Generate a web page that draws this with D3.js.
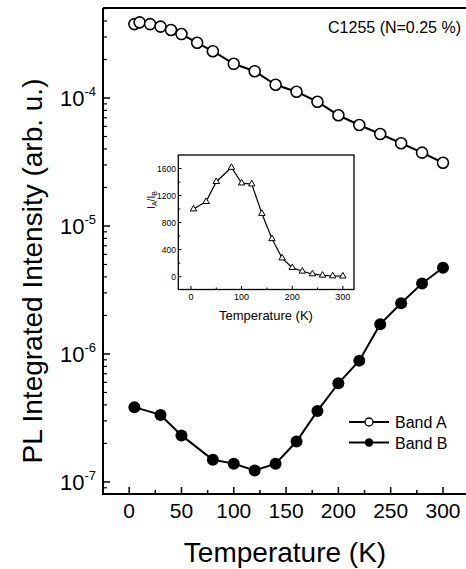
<!DOCTYPE html>
<html><head><meta charset="utf-8">
<script src="https://cdn.jsdelivr.net/npm/d3@7"></script>
<style>body{margin:0;background:#fff}svg{display:block}text{font-family:"Liberation Sans",Arial,sans-serif;fill:#000}</style>
</head><body><div id="chart"></div>
<script>
const tempsA = [5,10,20,30,40,50,65,80,100,120,140,160,180,200,220,240,260,280,300];
const bandA = [3.78e-4,3.90e-4,3.78e-4,3.61e-4,3.40e-4,3.16e-4,2.70e-4,2.32e-4,1.85e-4,1.62e-4,1.27e-4,1.12e-4,9.35e-5,7.33e-5,6.15e-5,5.23e-5,4.43e-5,3.74e-5,3.12e-5];
const tempsB = [5,30,50,80,100,120,140,160,180,200,220,240,260,280,300];
const bandB = [3.84e-7,3.34e-7,2.31e-7,1.49e-7,1.39e-7,1.23e-7,1.39e-7,2.07e-7,3.59e-7,5.90e-7,8.87e-7,1.71e-6,2.49e-6,3.56e-6,4.72e-6];
const tempsR = [5,30,50,80,100,120,140,160,180,200,220,240,260,280,300];
const ratio = [1000,1110,1405,1615,1385,1370,934,560,275,133,80,40,20,10,8];
const xTicks = [0,50,100,150,200,250,300];
const yTickExps = [-4,-5,-6,-7];
const insetXTicks = [0,100,200,300];
const insetYTicks = [0,400,800,1200,1600];

const W=466,H=569;
const svg=d3.select("#chart").append("svg").attr("width",W).attr("height",H);

const x=d3.scaleLinear([-25,322],[103,466]);
const y=d3.scaleLog([8.05e-8,5.05e-4],[494,8]);

// frame
svg.append("line").attr("x1",103).attr("x2",466).attr("y1",8).attr("y2",8).attr("stroke","#000").attr("stroke-width",2);

// x axis
const xAxis=svg.append("g").attr("transform","translate(0,494)");
xAxis.append("line").attr("x1",102).attr("x2",466).attr("stroke","#000").attr("stroke-width",2);
const xMinor=d3.range(-25,325,25).filter(v=>v%50!==0);
xAxis.selectAll(".xmin").data(xMinor).join("line").attr("x1",d=>x(d)).attr("x2",d=>x(d)).attr("y1",0).attr("y2",-4).attr("stroke","#000").attr("stroke-width",1.5);
xAxis.selectAll(".xmaj").data(xTicks).join("line").attr("x1",d=>x(d)).attr("x2",d=>x(d)).attr("y1",0).attr("y2",-7).attr("stroke","#000").attr("stroke-width",1.5);
xAxis.selectAll(".xl").data(xTicks).join("text").attr("x",d=>x(d)).attr("y",24).attr("text-anchor","middle").attr("font-size",21).text(d=>d);

// y axis
const yAxis=svg.append("g");
yAxis.append("line").attr("x1",103).attr("x2",103).attr("y1",8).attr("y2",495).attr("stroke","#000").attr("stroke-width",2);
const minor=[];
for(let e=-8;e<=-4;e++){for(let m=2;m<=9;m++){const v=m*Math.pow(10,e);if(v>=y.domain()[0]&&v<=y.domain()[1])minor.push(v);}}
yAxis.selectAll(".ymin").data(minor).join("line").attr("x1",103).attr("x2",107).attr("y1",d=>y(d)).attr("y2",d=>y(d)).attr("stroke","#000").attr("stroke-width",1.2);
yAxis.selectAll(".ymaj").data(yTickExps).join("line").attr("x1",103).attr("x2",110).attr("y1",d=>y(Math.pow(10,d))).attr("y2",d=>y(Math.pow(10,d))).attr("stroke","#000").attr("stroke-width",1.5);
const yl=yAxis.selectAll(".yl").data(yTickExps).join("text").attr("x",96).attr("y",d=>y(Math.pow(10,d))+8).attr("text-anchor","end");
yl.append("tspan").attr("font-size",22).text("10");
yl.append("tspan").attr("font-size",13).attr("dy",-10).text(d=>"-"+Math.abs(d));

// labels
svg.append("text").attr("transform","translate(42,271) rotate(-90)").attr("text-anchor","middle").attr("font-size",28).text("PL Integrated Intensity (arb. u.)");
svg.append("text").attr("x",285).attr("y",562).attr("text-anchor","middle").attr("font-size",28).text("Temperature (K)");
svg.append("text").attr("x",461).attr("y",33).attr("text-anchor","end").attr("font-size",16).text("C1255 (N=0.25 %)");

// series
const line=d3.line();
const ptsA=tempsA.map((t,i)=>[x(t),y(bandA[i])]);
const ptsB=tempsB.map((t,i)=>[x(t),y(bandB[i])]);
svg.append("path").attr("d",line(ptsA)).attr("fill","none").attr("stroke","#000").attr("stroke-width",2);
svg.append("path").attr("d",line(ptsB)).attr("fill","none").attr("stroke","#000").attr("stroke-width",2);
svg.selectAll(".ca").data(ptsA).join("circle").attr("cx",d=>d[0]).attr("cy",d=>d[1]).attr("r",5.5).attr("fill","#fff").attr("stroke","#000").attr("stroke-width",1.6);
svg.selectAll(".cb").data(ptsB).join("circle").attr("cx",d=>d[0]).attr("cy",d=>d[1]).attr("r",6).attr("fill","#000");

// legend
const lg=svg.append("g");
lg.append("line").attr("x1",349).attr("x2",389).attr("y1",422).attr("y2",422).attr("stroke","#000").attr("stroke-width",2);
lg.append("circle").attr("cx",369).attr("cy",422).attr("r",4).attr("fill","#fff").attr("stroke","#000").attr("stroke-width",1.3);
lg.append("text").attr("x",395).attr("y",428).attr("font-size",16).text("Band A");
lg.append("line").attr("x1",349).attr("x2",389).attr("y1",442.5).attr("y2",442.5).attr("stroke","#000").attr("stroke-width",2);
lg.append("circle").attr("cx",369).attr("cy",442.5).attr("r",4.2).attr("fill","#000");
lg.append("text").attr("x",395).attr("y",448.5).attr("font-size",16).text("Band B");

// inset
const xi=d3.scaleLinear([-25,322],[178.3,354]);
const yi=d3.scaleLinear([-190,1800],[289.5,155]);
const ins=svg.append("g");
ins.append("rect").attr("x",178.3).attr("y",155).attr("width",354-178.3).attr("height",289.5-155).attr("fill","#fff").attr("stroke","#000").attr("stroke-width",1.3);
ins.selectAll(".ixt").data(insetXTicks).join("line").attr("x1",d=>xi(d)).attr("x2",d=>xi(d)).attr("y1",289.5).attr("y2",286).attr("stroke","#000");
ins.selectAll(".ixm").data([50,150,250]).join("line").attr("x1",d=>xi(d)).attr("x2",d=>xi(d)).attr("y1",289.5).attr("y2",287.5).attr("stroke","#000");
ins.selectAll(".ixl").data(insetXTicks).join("text").attr("x",d=>xi(d)).attr("y",300).attr("text-anchor","middle").attr("font-size",9).text(d=>d);
ins.selectAll(".iyt").data(insetYTicks).join("line").attr("x1",178.3).attr("x2",181.5).attr("y1",d=>yi(d)).attr("y2",d=>yi(d)).attr("stroke","#000");
ins.selectAll(".iym").data([200,600,1000,1400]).join("line").attr("x1",178.3).attr("x2",180.3).attr("y1",d=>yi(d)).attr("y2",d=>yi(d)).attr("stroke","#000");
ins.selectAll(".iyl").data(insetYTicks).join("text").attr("x",176).attr("y",d=>yi(d)+3).attr("text-anchor","end").attr("font-size",8.5).text(d=>d);
const il=ins.append("text").attr("transform","translate(155,200) rotate(-90)").attr("text-anchor","middle").attr("font-size",10);
il.append("tspan").text("I");
il.append("tspan").attr("font-size",7).attr("dy",2).text("A");
il.append("tspan").attr("dy",-2).text("/I");
il.append("tspan").attr("font-size",7).attr("dy",2).text("B");
ins.append("text").attr("x",266).attr("y",320).attr("text-anchor","middle").attr("font-size",13).text("Temperature (K)");
const ptsR=tempsR.map((t,i)=>[xi(t),yi(ratio[i])]);
ins.append("path").attr("d",line(ptsR)).attr("fill","none").attr("stroke","#000").attr("stroke-width",1.2);
const tri=d3.symbol().type(d3.symbolTriangle).size(18);
ins.selectAll(".tr").data(ptsR).join("path").attr("d",tri).attr("transform",d=>`translate(${d[0]},${d[1]})`).attr("fill","#fff").attr("stroke","#000").attr("stroke-width",1);
</script></body></html>
